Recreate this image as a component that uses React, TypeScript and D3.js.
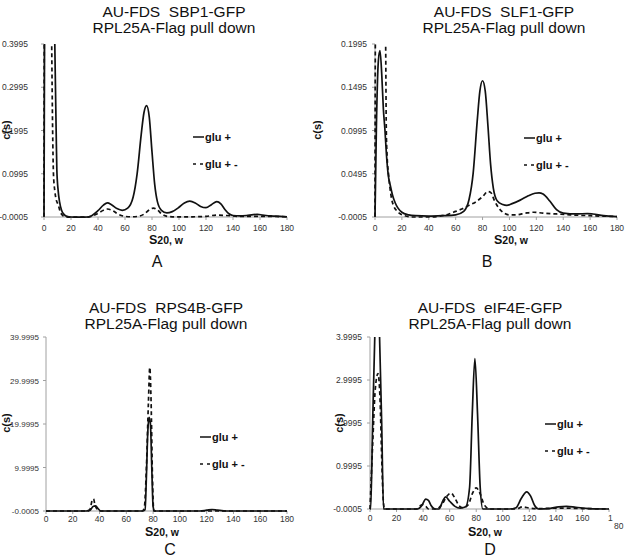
import React from 'react';
import * as d3 from 'd3';

type Pt = [number, number];

// ---------- data ----------
const xTicks = [0, 20, 40, 60, 80, 100, 120, 140, 160, 180];
const panelLetters = ['A', 'B', 'C', 'D'];
const titleLine1 = ['AU-FDS  SBP1-GFP', 'AU-FDS  SLF1-GFP', 'AU-FDS  RPS4B-GFP', 'AU-FDS  eIF4E-GFP'];
const titleLine2 = 'RPL25A-Flag pull down';
const legendLabels = ['glu +', 'glu + -'];
const yTicksA = [-0.0005, 0.0995, 0.1995, 0.2995, 0.3995];
const yTicksB = [-0.0005, 0.0495, 0.0995, 0.1495, 0.1995];
const yTicksC = [-0.0005, 9.9995, 19.9995, 29.9995, 39.9995];
const yTicksD = [-0.0005, 0.9995, 1.9995, 2.9995, 3.9995];

const solidA: Pt[] = [[0,0],[0.5,0.5],[2,1.2],[5,1.0],[8,0.4],[9,0.2],[9.5,0.11],[10.5,0.06],[11.5,0.035],[13,0.015],[15,0.005],[17,0.001],[20,-0.0005],[25,-0.001],[30,-0.001],[35,0.002],[40,0.014],[44,0.027],[47,0.032],[50,0.028],[54,0.019],[58,0.015],[62,0.02],[66,0.045],[69,0.1],[72,0.19],[74,0.24],[76,0.257],[78,0.23],[80,0.15],[82,0.075],[84,0.035],[87,0.015],[91,0.009],[95,0.012],[100,0.022],[104,0.032],[108,0.036],[112,0.032],[116,0.024],[120,0.021],[124,0.028],[128,0.035],[131,0.03],[134,0.017],[137,0.007],[140,0.003],[145,0.002],[150,0.003],[155,0.005],[158,0.0055],[162,0.004],[168,0.002],[175,0.001],[180,0]];
const dashedA: Pt[] = [[0,0],[0.3,0.6],[2,1.5],[4,1.0],[5.7,0.4],[6.4,0.2],[7,0.1],[8,0.06],[9,0.04],[10.5,0.028],[12,0.012],[13.5,0.004],[15.5,0],[20,-0.001],[30,-0.001],[35,0.001],[40,0.008],[44,0.015],[47,0.018],[51,0.014],[55,0.006],[60,0.001],[65,0],[70,0.001],[74,0.006],[78,0.016],[81,0.02],[84,0.016],[87,0.007],[90,0.002],[95,0],[110,0],[120,0.001],[128,0.004],[135,0.003],[145,0.001],[160,0.001],[180,0]];

const solidB: Pt[] = [[0,-0.0005],[1,0.1],[2.5,0.18],[3.7,0.192],[5,0.165],[6.2,0.125],[7.4,0.1],[8.5,0.072],[9.7,0.05],[11.5,0.035],[13,0.025],[15,0.016],[17,0.01],[20,0.005],[25,0.002],[30,0.001],[40,0.0005],[50,0.001],[60,0.002],[66,0.006],[70,0.02],[73,0.05],[76,0.11],[78,0.145],[80,0.157],[82,0.145],[84,0.105],[86,0.06],[88,0.033],[91,0.018],[95,0.014],[98,0.013],[102,0.015],[108,0.019],[114,0.024],[119,0.027],[122,0.0275],[125,0.026],[130,0.018],[135,0.008],[140,0.004],[150,0.003],[158,0.0035],[162,0.003],[170,0.001],[180,0]];
const dashedB: Pt[] = [[0,0],[0.3,0.21],[1,0.23],[3,0.22],[6,0.215],[7.8,0.21],[8.4,0.1],[9,0.07],[10,0.05],[11,0.035],[12.4,0.02],[14,0.012],[16,0.007],[18,0.004],[22,0.001],[28,-0.0005],[40,-0.0005],[50,0.001],[55,0.003],[60,0.006],[65,0.009],[70,0.013],[75,0.017],[80,0.023],[84,0.029],[86,0.028],[89,0.018],[92,0.01],[96,0.004],[100,0.002],[105,0.002],[112,0.004],[118,0.005],[125,0.004],[135,0.003],[145,0.002],[160,0.001],[180,0]];

const solidC: Pt[] = [[0,0],[30,0],[33,0.2],[35,1.0],[37,1.2],[39,0.5],[41,0],[72,0],[74,0.3],[75,8],[76,18],[77,21.5],[78,20],[79,10],[80,1],[81,0],[115,0],[120,0.2],[124,0.35],[128,0.2],[135,0],[180,0]];
const dashedC: Pt[] = [[0,0],[31,0],[33,0.5],[34.5,2.5],[35.5,2.8],[36.5,1.5],[38,0.5],[40,0],[72,0],[73.5,1],[75,10],[76.5,25],[77.5,33],[78.5,25],[79.5,8],[80.5,0],[180,0]];

const solidD: Pt[] = [[0,-0.0005],[0.5,0],[2,2],[3.6,4.0],[5.4,5.5],[7.2,4.0],[8.8,2],[10.2,0],[11,-0.0005],[36,0],[39,0.08],[42,0.23],[44,0.2],[46,0.08],[49,0],[52,0],[55,0.2],[57,0.28],[60,0.18],[64,0.06],[68,0.02],[72,0.05],[75,0.5],[77,2.2],[79,3.5],[81,2.2],[83,0.5],[85,0],[105,0],[110,0.03],[114,0.25],[118,0.4],[121,0.3],[124,0.08],[127,0],[135,0.01],[142,0.05],[148,0.06],[155,0.04],[165,0.01],[180,0]];
const dashedD: Pt[] = [[0,0],[2,1.5],[4,2.8],[6,3.15],[7.5,2.6],[9,1],[10,0.2],[11,0],[35,0],[38,0.08],[40,0.1],[42,0.06],[44,0],[50,0],[54,0.1],[58,0.3],[61,0.37],[64,0.25],[67,0.08],[70,0.03],[74,0.1],[77,0.35],[80,0.49],[83,0.35],[86,0.1],[90,0],[110,0],[115,0.05],[120,0.02],[125,0.01],[145,0.02],[160,0.01],[180,0]];

const solidSeries = [solidA, solidB, solidC, solidD];
const dashedSeries = [dashedA, dashedB, dashedC, dashedD];
const yTickSets = [yTicksA, yTicksB, yTicksC, yTicksD];

// ---------- layout ----------
const layouts = [
  { x0: 44, x1: 287, y0: 217, y1: 44, titleX: 174, titleY: 17, labelGap: 16, tickFs: 8.5, tickOff: 14, xTitleX: 166, xTitleY: 244, letterX: 157, letterY: 267, yLabX: 10, yLabY: 130, legX: 193, legY: 137 },
  { x0: 375, x1: 617, y0: 217, y1: 44, titleX: 504, titleY: 17, labelGap: 8, tickFs: 8.5, tickOff: 14, xTitleX: 511, xTitleY: 244, letterX: 487, letterY: 267, yLabX: 321, yLabY: 130, legX: 524, legY: 138 },
  { x0: 46, x1: 287, y0: 511, y1: 337, titleX: 166, titleY: 313, labelGap: 7, tickFs: 8, tickOff: 11, xTitleX: 162, xTitleY: 536, letterX: 170, letterY: 555, yLabX: 10, yLabY: 423, legX: 200, legY: 437 },
  { x0: 370, x1: 609, y0: 509, y1: 337, titleX: 490, titleY: 313, labelGap: 8, tickFs: 8.5, tickOff: 12, xTitleX: 485, xTitleY: 536, letterX: 490, letterY: 555, yLabX: 343, yLabY: 423, legX: 545, legY: 424 },
];

const FONT = '"Liberation Sans", Arial, sans-serif';

function Panel({ i }: { i: number }) {
  const L = layouts[i];
  const yt = yTickSets[i];
  const x = d3.scaleLinear().domain([0, 180]).range([L.x0, L.x1]);
  const y = d3.scaleLinear().domain([yt[0], yt[yt.length - 1]]).range([L.y0, L.y1]);
  const line = d3.line<Pt>().x(d => x(d[0])).y(d => y(d[1])).curve(d3.curveMonotoneX);
  const clipId = `clip${i}`;
  return (
    <g>
      <defs>
        <clipPath id={clipId}>
          <rect x={L.x0 - 2} y={L.y1} width={L.x1 - L.x0 + 4} height={L.y0 - L.y1 + 3} />
        </clipPath>
      </defs>
      <text x={L.titleX} y={L.titleY} textAnchor="middle" fontSize={15.5} fontFamily={FONT} fill="#111" style={{ whiteSpace: 'pre' }}>{titleLine1[i]}</text>
      <text x={L.titleX} y={L.titleY + 15.5} textAnchor="middle" fontSize={15.5} fontFamily={FONT} fill="#111">{titleLine2}</text>
      {/* axes */}
      <line x1={L.x0} x2={L.x0} y1={L.y1} y2={L.y0} stroke="#a0a0a0" strokeWidth={1} />
      <line x1={L.x0} x2={L.x1} y1={L.y0} y2={L.y0} stroke="#a0a0a0" strokeWidth={1} />
      {yt.map(v => (
        <g key={v}>
          <line x1={L.x0 - 3} x2={L.x0} y1={y(v)} y2={y(v)} stroke="#a0a0a0" />
          <text x={L.x0 - L.labelGap} y={y(v) + 3} textAnchor="end" fontSize={L.tickFs} fontFamily={FONT} fill="#333">{v.toFixed(4)}</text>
        </g>
      ))}
      {xTicks.map((v, k) => (
        <g key={v}>
          <line x1={x(v)} x2={x(v)} y1={L.y0} y2={L.y0 + 3} stroke="#a0a0a0" />
          {i === 3 && k === xTicks.length - 1 ? (
            <text fontSize={8.5} fontFamily={FONT} fill="#333">
              <tspan x={x(v) - 1} y={L.y0 + L.tickOff}>1</tspan>
              <tspan x={x(v) + 5} y={L.y0 + L.tickOff + 8}>{String(v).slice(1)}</tspan>
            </text>
          ) : (
            <text x={x(v)} y={L.y0 + L.tickOff} textAnchor="middle" fontSize={8.5} fontFamily={FONT} fill="#333">{v}</text>
          )}
        </g>
      ))}
      {/* curves */}
      <g clipPath={`url(#${clipId})`}>
        <path d={line(dashedSeries[i]) || ''} fill="none" stroke="#111" strokeWidth={1.7} strokeDasharray="4,3" />
        <path d={line(solidSeries[i]) || ''} fill="none" stroke="#111" strokeWidth={1.7} />
      </g>
      {/* axis titles */}
      <text transform={`translate(${L.yLabX},${L.yLabY}) rotate(-90)`} textAnchor="middle" fontSize={11} fontWeight="bold" fontFamily={FONT} fill="#111">c(s)</text>
      <text x={L.xTitleX} y={L.xTitleY} textAnchor="middle" fontWeight="bold" fontFamily={FONT} fill="#111">
        <tspan fontSize={12.5}>S</tspan><tspan fontSize={10.5}>20, w</tspan>
      </text>
      <text x={L.letterX} y={L.letterY} textAnchor="middle" fontSize={16} fontFamily={FONT} fill="#111">{panelLetters[i]}</text>
      {/* legend */}
      <line x1={L.legX} x2={L.legX + 11} y1={L.legY} y2={L.legY} stroke="#111" strokeWidth={1.5} />
      <text x={L.legX + 12} y={L.legY + 4} fontSize={11} fontWeight="bold" fontFamily={FONT} fill="#111">{legendLabels[0]}</text>
      <line x1={L.legX} x2={L.legX + 11} y1={L.legY + 27} y2={L.legY + 27} stroke="#111" strokeWidth={1.5} strokeDasharray="3,4" />
      <text x={L.legX + 12} y={L.legY + 31} fontSize={11} fontWeight="bold" fontFamily={FONT} fill="#111">{legendLabels[1]}</text>
    </g>
  );
}

export default function App() {
  return (
    <svg width={625} height={560} style={{ position: 'absolute', left: 0, top: 0, background: '#fff' }}>
      <rect width={625} height={560} fill="#fff" />
      {[0, 1, 2, 3].map(i => <Panel key={i} i={i} />)}
    </svg>
  );
}
